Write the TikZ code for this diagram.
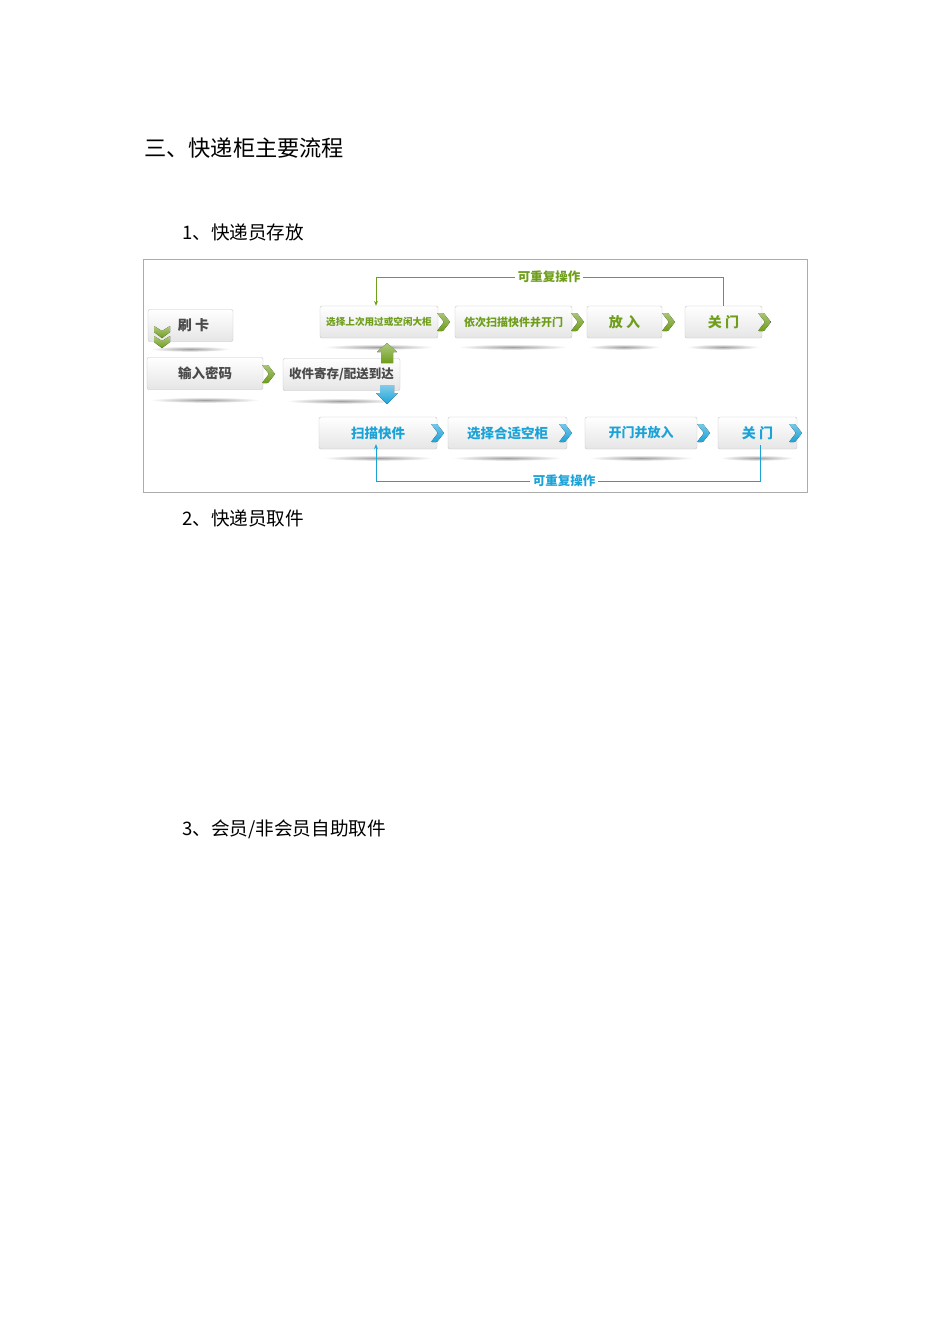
\documentclass[tikz,border=0pt]{standalone}
\usepackage{fontspec}
\usetikzlibrary{arrows.meta}
\newfontfamily\cjk{Noto Sans CJK SC}
\definecolor{grn}{HTML}{6E9E1A}
\definecolor{blu}{HTML}{1BA3D8}
\definecolor{txtg}{HTML}{4A4A4A}
\newcommand{\chev}[3]{%
  \fill[top color=#3!60!white, bottom color=#3, rounded corners=0.8pt] (#1,#2)
    ++(-6,-9) -- ++(6,0) -- ++(7,9) -- ++(-7,9) -- ++(-6,0) -- ++(7,-9) -- cycle;}
\newcommand{\boxshadow}[3]{%
  \shade[inner color=gray!75, outer color=white] (#1,#2) ellipse ({#3} and 2.8);}
\begin{document}
\begin{tikzpicture}[x=1pt,y=-1pt,
  every node/.style={inner sep=0pt},
  flowbox/.style={draw=gray!45, rounded corners=2pt, top color=white, bottom color=gray!20,
    minimum height=32pt, font=\cjk\bfseries},
  heading/.style={anchor=west, font=\cjk},
  gline/.style={draw=grn, line width=1pt},
  bline/.style={draw=blu, line width=1pt},
  looplabel/.style={fill=white, inner xsep=3pt, font=\cjk\bfseries\fontsize{12.5}{12.5}\selectfont}]
\useasboundingbox[fill=white] (0,0) rectangle (950,1344);

% headings
\node[heading, font=\cjk\fontsize{22.2}{22}\selectfont] (title) at (144,148) {三、快递柜主要流程};
\node[heading, font=\cjk\fontsize{18.6}{18}\selectfont] (s1) at (182,232) {1、快递员存放};
\node[heading, font=\cjk\fontsize{18.6}{18}\selectfont] (s2) at (182,518) {2、快递员取件};
\node[heading, font=\cjk\fontsize{18.6}{18}\selectfont] (s3) at (182,829) {3、会员/非会员自助取件};

% frame
\draw[gray!65, line width=0.8pt] (143,259) rectangle (807,492);

% shadows
\boxshadow{190}{349}{40}
\boxshadow{205}{400}{55}
\boxshadow{341}{401}{55}
\boxshadow{379}{347}{55}
\boxshadow{513}{347}{55}
\boxshadow{624}{347}{36}
\boxshadow{723}{347}{36}
\boxshadow{378}{458}{55}
\boxshadow{507}{458}{55}
\boxshadow{641}{458}{52}
\boxshadow{757}{458}{37}

% boxes
\node[flowbox, minimum width=85pt, text=txtg, font=\cjk\bfseries\fontsize{14}{14}\selectfont] (card) at (190.5,325.5) {\hspace{6pt}刷\ 卡};
\node[flowbox, minimum width=116pt, text=txtg, font=\cjk\bfseries\fontsize{13.5}{14}\selectfont] (pwd) at (205,373.5) {输入密码};
\node[flowbox, minimum width=117pt, text=txtg, font=\cjk\bfseries\fontsize{12.5}{13}\selectfont] (recv) at (341.5,374.5) {收件寄存/配送到达};

\node[flowbox, minimum width=118pt, text=grn, font=\cjk\bfseries\fontsize{9.6}{10}\selectfont] (g1) at (379,322) {选择上次用过或空闲大柜\hspace{4pt}};
\node[flowbox, minimum width=117pt, text=grn, font=\cjk\bfseries\fontsize{11}{11}\selectfont] (g2) at (513.5,322) {依次扫描快件并开门\hspace{5pt}};
\node[flowbox, minimum width=75pt, text=grn, font=\cjk\bfseries\fontsize{14}{14}\selectfont] (g3) at (624.5,322) {放\ 入};
\node[flowbox, minimum width=77pt, text=grn, font=\cjk\bfseries\fontsize{14}{14}\selectfont] (g4) at (723.5,322) {关\ 门};

\node[flowbox, minimum width=118pt, text=blu, font=\cjk\bfseries\fontsize{13.5}{14}\selectfont] (b1) at (378,433) {扫描快件};
\node[flowbox, minimum width=119pt, text=blu, font=\cjk\bfseries\fontsize{13.5}{14}\selectfont] (b2) at (507.5,433) {选择合适空柜};
\node[flowbox, minimum width=112pt, text=blu, font=\cjk\bfseries\fontsize{13}{13}\selectfont] (b3) at (641,433) {开门并放入};
\node[flowbox, minimum width=79pt, text=blu, font=\cjk\bfseries\fontsize{14}{14}\selectfont] (b4) at (757.5,433) {关\ 门};

% chevrons
\chev{268}{374}{grn}
\chev{443}{322}{grn}
\chev{577}{322}{grn}
\chev{668}{322}{grn}
\chev{764}{322}{grn}
\chev{437}{433}{blu}
\chev{565}{433}{blu}
\chev{703}{433}{blu}
\chev{795}{433}{blu}

% double down chevrons at card
\foreach \yy in {326,336}{
  \fill[top color=grn!55!white, bottom color=grn] (154,\yy) -- (162,\yy+5) -- (170,\yy) -- (170,\yy+6) -- (162,\yy+12) -- (154,\yy+6) -- cycle;
}

% block arrows
\fill[top color=grn!55!white, bottom color=grn] (387,343) -- (397,352) -- (393,352) -- (393,363) -- (381,363) -- (381,352) -- (377,352) -- cycle;
\fill[top color=blu!55!white, bottom color=blu] (380,385) -- (394,385) -- (394,393) -- (398,393) -- (387,404) -- (376,393) -- (380,393) -- cycle;

% loops
\coordinate (gtop) at (725,277);
\draw[gline, -{Stealth[length=5pt,width=4pt]}] (g4.north) -- (g4.north |- gtop) -| ([xshift=-3pt]g1.north);
\node[looplabel, text=grn] (glab) at (549,277) {可重复操作};

\coordinate (bbot) at (760,481);
\draw[bline, -{Stealth[length=5pt,width=4pt]}] ([xshift=2.5pt,yshift=4pt]b4.south) -- ([xshift=2.5pt]b4.south |- bbot) -| ([xshift=-2pt,yshift=5pt]b1.south);
\node[looplabel, text=blu] (blab) at (564,481) {可重复操作};
\end{tikzpicture}
\end{document}
